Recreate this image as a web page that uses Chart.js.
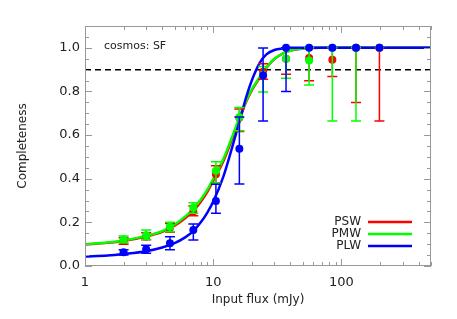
<!DOCTYPE html>
<html>
<head>
<meta charset="utf-8">
<script src="https://cdn.jsdelivr.net/npm/chart.js@4.4.1/dist/chart.umd.min.js"></script>
<style>
  html, body { margin: 0; padding: 0; background: #fff; }
  #wrap { width: 457px; height: 319px; }
</style>
</head>
<body>
<div id="wrap"><canvas id="grafiek" width="457" height="319"></canvas></div>
<script>
// ---- DATA ----
const fluxPunten = [2, 3, 4.6, 7, 10.5, 16, 24.5, 37, 56, 85, 130, 198];

const pswWaarde = [0.115, 0.135, 0.175, 0.25, 0.42, 0.68, 0.89, 0.95, 0.953, 0.945, 1.0, 1.0];
const pswLaag   = [0.10, 0.12, 0.155, 0.23, 0.38, 0.616, 0.856, 0.879, 0.849, 0.868, 0.749, 0.665];
const pswHoog   = [0.13, 0.152, 0.195, 0.275, 0.46, 0.72, 0.927, 1.0, 1.0, 1.0, 1.0, 1.0];

const pmwWaarde = [0.122, 0.141, 0.18, 0.267, 0.436, 0.682, 0.876, 0.95, 0.942, 1.0, 1.0, 1.0];
const pmwLaag   = [0.107, 0.122, 0.157, 0.242, 0.379, 0.62, 0.797, 0.861, 0.83, 0.665, 0.665, 1.0];
const pmwHoog   = [0.137, 0.165, 0.2, 0.29, 0.478, 0.726, 0.914, 1.0, 1.0, 1.0, 1.0, 1.0];

const plwWaarde = [0.063, 0.077, 0.104, 0.165, 0.298, 0.537, 0.873, 1.0, 1.0, 1.0, 1.0, 1.0];
const plwLaag   = [0.05, 0.058, 0.075, 0.119, 0.242, 0.376, 0.665, 0.8, 1.0, 1.0, 1.0, 1.0];
const plwHoog   = [0.075, 0.095, 0.134, 0.193, 0.375, 0.683, 0.999, 1.0, 1.0, 1.0, 1.0, 1.0];

// fit curves
const fitFlux = [1, 1.5, 2, 3, 4, 5, 6, 7, 8, 9, 10, 12, 14, 16, 18, 20, 23, 26, 30, 35, 40, 50, 70, 100, 200, 500];
const pswFit = [0.098, 0.106, 0.115, 0.135, 0.157, 0.185, 0.218, 0.253, 0.295, 0.34, 0.39, 0.48, 0.58, 0.67, 0.75, 0.805, 0.862, 0.908, 0.948, 0.974, 0.987, 0.997, 1.0, 1.0, 1.0, 1.0];
const pmwFit = [0.10, 0.108, 0.117, 0.138, 0.16, 0.19, 0.225, 0.262, 0.305, 0.35, 0.40, 0.49, 0.59, 0.68, 0.755, 0.81, 0.865, 0.91, 0.95, 0.975, 0.988, 0.997, 1.0, 1.0, 1.0, 1.0];
const plwFit = [0.043, 0.048, 0.055, 0.068, 0.085, 0.105, 0.13, 0.16, 0.2, 0.245, 0.295, 0.41, 0.54, 0.66, 0.77, 0.85, 0.93, 0.97, 0.99, 0.997, 1.0, 1.0, 1.0, 1.0, 1.0, 1.0];

const drempel = 0.9;
const xTicks = [1, 10, 100];
const yTicks = [0, 0.2, 0.4, 0.6, 0.8, 1.0];

const ROOD = "#ff0000";
const GROEN = "#00ff00";
const BLAUW = "#0000ff";
const FONT = "'DejaVu Sans', sans-serif";

function punten(xs, ys) {
    return xs.map((x, i) => ({ x: x, y: ys[i] }));
}

// ---- ERROR BARS ----
const foutBalken = {
    id: "foutBalken",
    beforeDatasetDraw(chart, args) {
        const ds = chart.data.datasets[args.index];
        if (!ds.laag) return;
        const ctx = chart.ctx;
        const xs = chart.scales.x;
        const ys = chart.scales.y;
        ctx.save();
        ctx.strokeStyle = ds.borderColor;
        ctx.lineWidth = 1.5;
        ds.data.forEach((p, i) => {
            const px = xs.getPixelForValue(p.x);
            const y1 = ys.getPixelForValue(ds.laag[i]);
            const y2 = ys.getPixelForValue(ds.hoog[i]);
            if (Math.abs(y1 - y2) < 0.5) return;
            ctx.beginPath();
            ctx.moveTo(px, y1); ctx.lineTo(px, y2);
            ctx.moveTo(px - 5, y1); ctx.lineTo(px + 5, y1);
            ctx.moveTo(px - 5, y2); ctx.lineTo(px + 5, y2);
            ctx.stroke();
        });
        ctx.restore();
    }
};

// ---- FRAME, TICKS, LEGEND ----
const kader = {
    id: "kader",
    afterDraw(chart) {
        const ctx = chart.ctx;
        const a = chart.chartArea;
        const xs = chart.scales.x;
        const ys = chart.scales.y;
        ctx.save();
        ctx.strokeStyle = "#999";
        ctx.lineWidth = 1;
        ctx.strokeRect(a.left + 0.5, a.top + 0.5, a.right - a.left - 1, a.bottom - a.top - 1);
        ctx.beginPath();
        for (let d = 1; d <= 100; d *= 10) {
            for (let m = 1; m <= 9; m++) {
                const v = d * m;
                if (v > xs.max) continue;
                const px = Math.round(xs.getPixelForValue(v)) + 0.5;
                const len = m === 1 ? 7 : 4;
                ctx.moveTo(px, a.bottom); ctx.lineTo(px, a.bottom - len);
                ctx.moveTo(px, a.top); ctx.lineTo(px, a.top + len);
            }
        }
        for (let k = 0; k <= 22; k++) {
            const v = k * 0.05;
            const py = Math.round(ys.getPixelForValue(v)) + 0.5;
            const len = k % 4 === 0 ? 7 : 4;
            ctx.moveTo(a.left, py); ctx.lineTo(a.left + len, py);
            ctx.moveTo(a.right, py); ctx.lineTo(a.right - len, py);
        }
        ctx.stroke();

        ctx.fillStyle = "#222";
        ctx.font = "11px " + FONT;
        ctx.textBaseline = "middle";
        ctx.textAlign = "left";
        ctx.fillText("cosmos: SF", 104, 46);

        const legenda = [["PSW", ROOD], ["PMW", GROEN], ["PLW", BLAUW]];
        ctx.font = "12px " + FONT;
        ctx.textAlign = "right";
        legenda.forEach((l, i) => {
            const y = 222 + i * 12;
            ctx.fillStyle = "#222";
            ctx.fillText(l[0], 361, y);
            ctx.strokeStyle = l[1];
            ctx.lineWidth = 2.5;
            ctx.beginPath();
            ctx.moveTo(368, y); ctx.lineTo(412, y);
            ctx.stroke();
        });
        ctx.restore();
    }
};

const ctx = document.getElementById("grafiek").getContext("2d");
const grafiek = new Chart(ctx, {
    type: "line",
    data: {
        datasets: [
            { data: punten([1, 500], [drempel, drempel]), borderColor: "#000", borderWidth: 1.5, borderDash: [6, 4], pointRadius: 0, order: 6 },
            { data: punten(fitFlux, pswFit), borderColor: ROOD, borderWidth: 2.5, pointRadius: 0, cubicInterpolationMode: "monotone", order: 5 },
            { data: punten(fitFlux, pmwFit), borderColor: GROEN, borderWidth: 2.5, pointRadius: 0, cubicInterpolationMode: "monotone", order: 4 },
            { data: punten(fitFlux, plwFit), borderColor: BLAUW, borderWidth: 2.5, pointRadius: 0, cubicInterpolationMode: "monotone", order: 3 },
            { data: punten(fluxPunten, pswWaarde), laag: pswLaag, hoog: pswHoog, showLine: false, borderColor: ROOD, backgroundColor: ROOD, pointRadius: 4, pointBorderWidth: 0, order: 2 },
            { data: punten(fluxPunten, pmwWaarde), laag: pmwLaag, hoog: pmwHoog, showLine: false, borderColor: GROEN, backgroundColor: GROEN, pointRadius: 4, pointBorderWidth: 0, order: 1 },
            { data: punten(fluxPunten, plwWaarde), laag: plwLaag, hoog: plwHoog, showLine: false, borderColor: BLAUW, backgroundColor: BLAUW, pointRadius: 4, pointBorderWidth: 0, order: 0 }
        ]
    },
    options: {
        responsive: false,
        animation: false,
        layout: { padding: { top: 26, right: 26, left: 0, bottom: 0 } },
        plugins: {
            legend: { display: false },
            tooltip: { enabled: false }
        },
        scales: {
            x: {
                type: "logarithmic",
                min: 1,
                max: 500,
                afterBuildTicks: s => { s.ticks = xTicks.map(v => ({ value: v })); },
                afterFit: s => { s.height = 53; },
                ticks: { color: "#222", font: { family: FONT, size: 13 }, padding: 9, maxRotation: 0, callback: v => String(v) },
                grid: { display: false, drawTicks: false },
                border: { display: false },
                title: { display: true, text: "Input flux (mJy)", color: "#222", font: { family: FONT, size: 12 }, padding: { top: 4, bottom: 12 } }
            },
            y: {
                min: 0,
                max: 1.1,
                afterBuildTicks: s => { s.ticks = yTicks.map(v => ({ value: v })); },
                afterFit: s => { s.width = 85; },
                ticks: { color: "#222", font: { family: FONT, size: 13 }, padding: 5, callback: v => v.toFixed(1) },
                grid: { display: false, drawTicks: false },
                border: { display: false },
                title: { display: true, text: "Completeness", color: "#222", font: { family: FONT, size: 12 }, padding: { top: 16, bottom: 0 } }
            }
        }
    },
    plugins: [foutBalken, kader]
});
</script>
</body>
</html>
